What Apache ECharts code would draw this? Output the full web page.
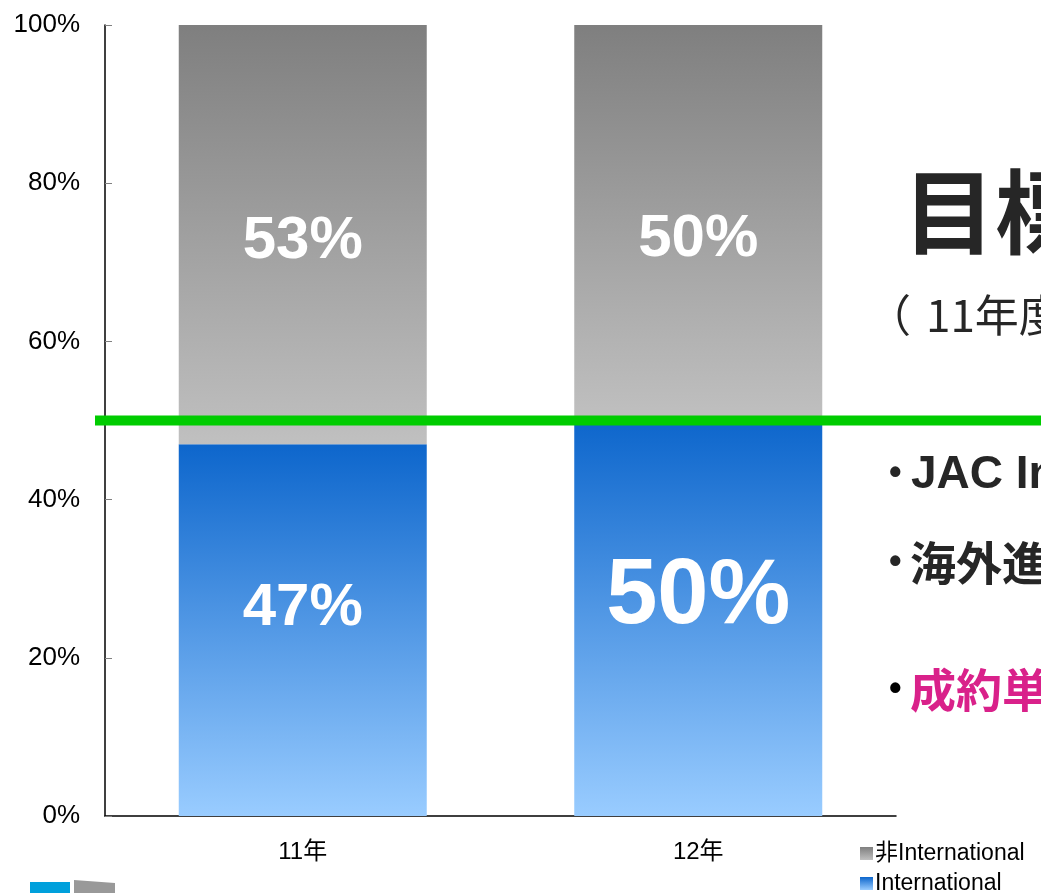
<!DOCTYPE html>
<html>
	<head>
		<meta charset="utf-8">
		<title></title>
		<script src="https://cdn.jsdelivr.net/npm/echarts@6/dist/echarts.min.js"></script>
		<style>
			body{ margin:0; background:#fff; }
			#chart{ width:1041px; height:893px; }
		</style>
	</head>
	<body>
		<div id="chart"></div>
		<script>
			// data
			const categories = ['11年', '12年'];
			const intlValues = [47, 50];
			const nonIntlValues = [53, 50];
			const yTicks = [0, 20, 40, 60, 80, 100];
			const targetLine = 50;

			const font = '"Liberation Sans", Arial, "Noto Sans CJK JP", sans-serif';
			const cjk = '"Noto Sans CJK JP", sans-serif';

			const chart = echarts.init(document.getElementById('chart'), null, {renderer:'canvas'});

			const blueGrad = new echarts.graphic.LinearGradient(0, 0, 0, 1, [
				{offset:0, color:'#0d66cc'},
				{offset:1, color:'#99ccff'}
			]);
			const grayGrad = new echarts.graphic.LinearGradient(0, 0, 0, 1, [
				{offset:0, color:'#7f7f7f'},
				{offset:1, color:'#c0c0c0'}
			]);

			// label offsets / sizes per bar
			const intlLabel = [{size:60, dy:-22}, {size:92, dy:-21}];
			const nonIntlLabel = [{size:60, dy:7}, {size:60, dy:17}];

			option = {
				animation:false,
				textStyle:{ fontFamily:font },
				grid:{ left:105, right:145, top:25, bottom:77 },
				legend:{
					orient:'vertical',
					left:855,
					top:837,
					height:70,
					itemWidth:13,
					itemHeight:13,
					itemGap:7,
					icon:'rect',
					data:['非International', 'International'],
					textStyle:{ fontSize:23, lineHeight:23, color:'#000', fontFamily:font, padding:[0,0,0,-3] }
				},
				xAxis:{
					type:'category',
					data:categories,
					axisLine:{ lineStyle:{ color:'#000', width:1.5 } },
					axisTick:{ inside:true, length:8, lineStyle:{ color:'#808080' } },
					axisLabel:{ fontSize:24, color:'#000', margin:24 }
				},
				yAxis:{
					type:'value',
					min:yTicks[0],
					max:yTicks[yTicks.length - 1],
					interval:20,
					axisLine:{ show:true, lineStyle:{ color:'#000', width:1.5 } },
					axisTick:{ show:true, inside:true, length:7, lineStyle:{ color:'#808080' } },
					splitLine:{ show:false },
					axisLabel:{ fontSize:26, color:'#000', margin:25, formatter:'{value}%' }
				},
				series:[
					{
						name:'International',
						type:'bar',
						stack:'a',
						barWidth:248,
						itemStyle:{ color:blueGrad },
						data:intlValues.map(function(v, i){
							return {
								value:v,
								label:{ fontSize:intlLabel[i].size, offset:[0, intlLabel[i].dy] }
							};
						}),
						label:{ show:true, position:'inside', color:'#fff', fontWeight:'bold', formatter:'{c}%', fontFamily:font }
					},
					{
						name:'非International',
						type:'bar',
						stack:'a',
						barWidth:248,
						itemStyle:{ color:grayGrad },
						data:nonIntlValues.map(function(v, i){
							return {
								value:v,
								label:{ fontSize:nonIntlLabel[i].size, offset:[0, nonIntlLabel[i].dy] }
							};
						}),
						label:{ show:true, position:'inside', color:'#fff', fontWeight:'bold', formatter:'{c}%', fontFamily:font }
					}
				]
			};
			chart.setOption(option);

			// target line at 50% across the slide, plus the slide text on the right
			const yLine = chart.convertToPixel({yAxisIndex:0}, targetLine);
			function txt(x, y, text, f, fill){
				return { type:'text', x:x, y:y, style:{ text:text, font:f, fill:fill, textAlign:'left', textVerticalAlign:'middle' } };
			}
			chart.setOption({
				graphic:[
					{ type:'line', shape:{ x1:95, y1:yLine, x2:1060, y2:yLine }, style:{ stroke:'#00cc00', lineWidth:10 }, z:50 },
					txt(903, 212, '目標', 'bold 92px ' + cjk, '#262626'),
					txt(867, 315, '（', '44px ' + cjk, '#262626'),
					txt(926, 315, '11年度比', '44px ' + cjk, '#262626'),
					txt(889, 474, '•', 'bold 36px "Liberation Sans"', '#262626'),
					txt(911, 475, 'JAC International', 'bold 46px "Liberation Sans"', '#262626'),
					txt(889, 563, '•', 'bold 36px "Liberation Sans"', '#262626'),
					txt(910, 563, '海外進出', 'bold 46px ' + cjk, '#262626'),
					txt(889, 690, '•', 'bold 36px "Liberation Sans"', '#000'),
					txt(910, 690, '成約単価', 'bold 46px ' + cjk, '#d9218a'),
					{ type:'rect', shape:{ x:30, y:882, width:40, height:14 }, style:{ fill:'#00a0dc' } },
					{ type:'polygon', shape:{ points:[[74,880],[115,883],[115,896],[74,896]] }, style:{ fill:'#999' } }
				]
			});
		</script>
	</body>
</html>
